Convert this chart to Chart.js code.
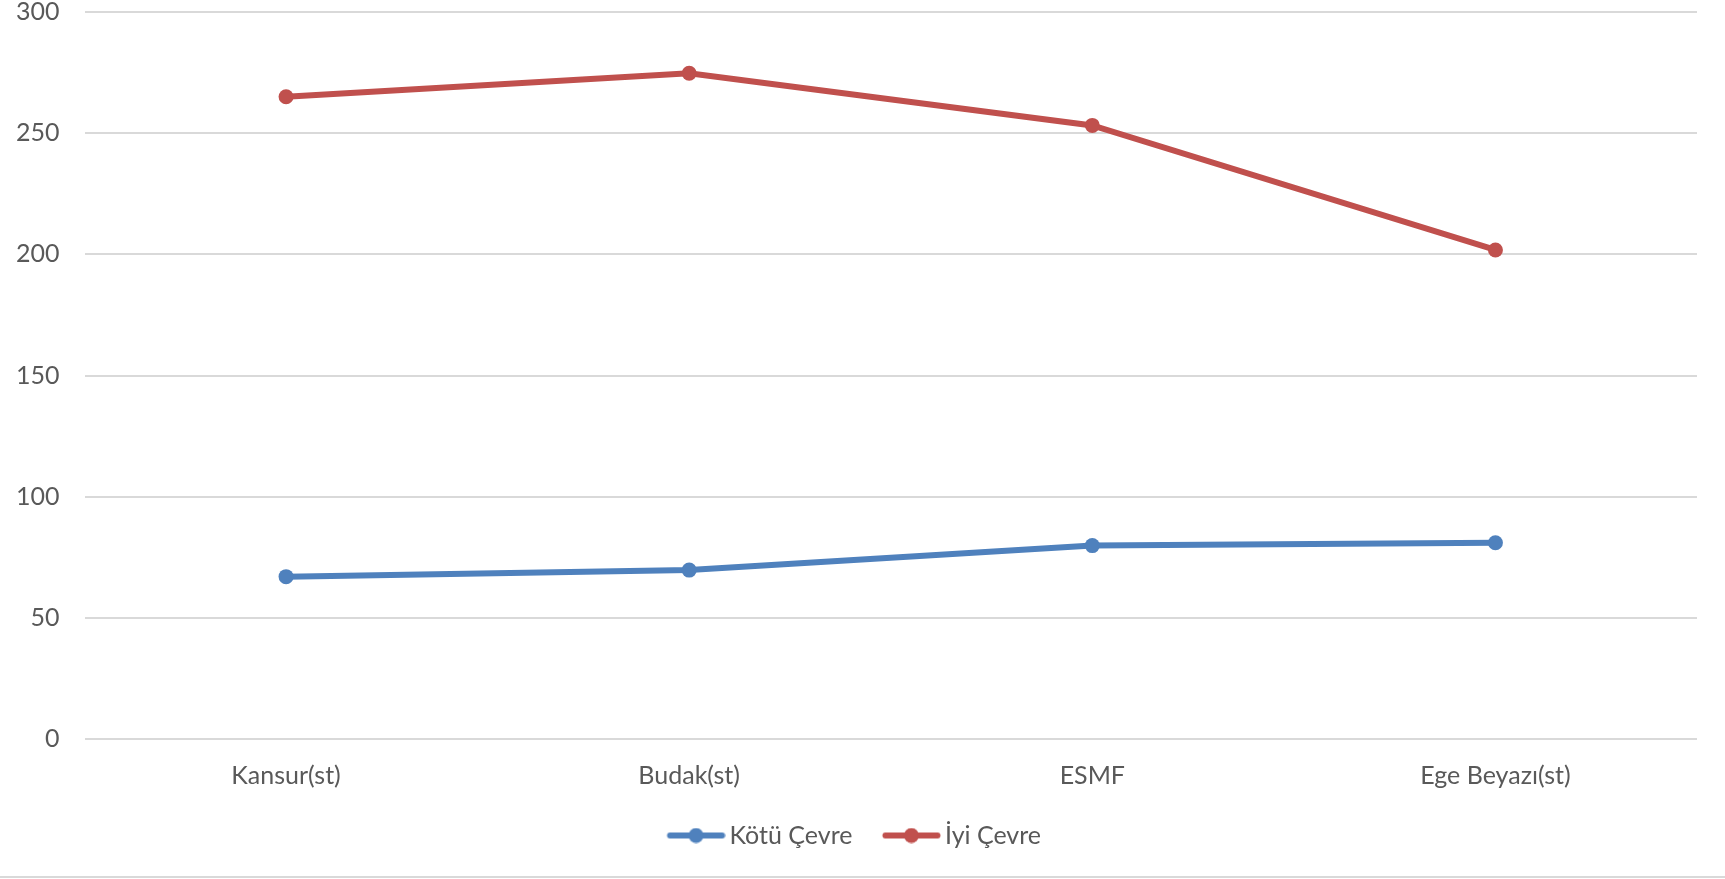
<!DOCTYPE html>
<html>
<head>
<meta charset="utf-8">
<script src="https://cdn.jsdelivr.net/npm/chart.js@4.4.0/dist/chart.umd.min.js"></script>
<style>
  html, body { margin: 0; padding: 0; background: #fff; }
  #wrap { width: 1725px; height: 876px; border-bottom: 2px solid #d9d9d9; position: relative; overflow: hidden; }
  canvas { display: block; position: absolute; left: -9px; top: -28px; }
</style>
</head>
<body>
<div id="wrap"><canvas id="c" width="1734" height="886"></canvas></div>
<script>
const categories = ["Kansur(st)", "Budak(st)", "ESMF", "Ege Beyazı(st)"];
const kotuCevre = [67, 69.7, 79.8, 81];
const iyiCevre = [265, 274.7, 253.2, 201.8];
const seriesNames = ["Kötü Çevre", "İyi Çevre"];
const yTicks = [0, 50, 100, 150, 200, 250, 300];

const BLUE = "#4F81BD";
const RED = "#C0504D";
const TEXT = "#595959";
const FONT = "Lato, 'Open Sans', sans-serif";

function legendIcon(color) {
  const cv = document.createElement("canvas");
  cv.width = 87; cv.height = 16;
  const ctx = cv.getContext("2d");
  ctx.strokeStyle = color;
  ctx.lineWidth = 6;
  ctx.lineCap = "round";
  ctx.beginPath();
  ctx.moveTo(31.5, 8); ctx.lineTo(83.5, 8);
  ctx.stroke();
  ctx.fillStyle = color;
  ctx.beginPath();
  ctx.arc(57.5, 8, 7.5, 0, Math.PI * 2);
  ctx.fill();
  return cv;
}

new Chart(document.getElementById("c"), {
  type: "line",
  data: {
    labels: categories,
    datasets: [
      {
        label: seriesNames[0], data: kotuCevre,
        borderColor: BLUE, backgroundColor: BLUE,
        borderWidth: 6, pointRadius: 7.5, pointHoverRadius: 7.5,
        pointBackgroundColor: BLUE, pointBorderWidth: 0,
        pointStyle: "circle", tension: 0,
        legendIcon: legendIcon(BLUE)
      },
      {
        label: seriesNames[1], data: iyiCevre,
        borderColor: RED, backgroundColor: RED,
        borderWidth: 6, pointRadius: 7.5, pointHoverRadius: 7.5,
        pointBackgroundColor: RED, pointBorderWidth: 0,
        pointStyle: "circle", tension: 0,
        legendIcon: legendIcon(RED)
      }
    ]
  },
  options: {
    responsive: false,
    animation: false,
    layout: { padding: { top: 0, right: 28, bottom: 0, left: 0 } },
    plugins: {
      tooltip: { enabled: false },
      legend: {
        position: "bottom",
        labels: {
          usePointStyle: true,
          pointStyleWidth: 70,
          boxHeight: 16,
          padding: 10,
          color: TEXT,
          font: { family: FONT, size: 25 },
          generateLabels(chart) {
            return chart.data.datasets.map((ds, i) => ({
              text: ds.label,
              fillStyle: ds.borderColor,
              strokeStyle: ds.borderColor,
              lineWidth: 0,
              pointStyle: ds.legendIcon,
              fontColor: TEXT,
              hidden: !chart.isDatasetVisible(i),
              datasetIndex: i
            }));
          }
        }
      }
    },
    scales: {
      x: {
        offset: true,
        grid: { display: false, drawTicks: false },
        border: { display: false },
        ticks: { color: TEXT, font: { family: FONT, size: 25 }, padding: 22 }
      },
      y: {
        min: 0, max: 300,
        afterBuildTicks(axis) { axis.ticks = yTicks.map(v => ({ value: v })); },
        grid: { color: "#d9d9d9", lineWidth: 2, drawTicks: false },
        border: { display: false },
        ticks: { color: TEXT, font: { family: FONT, size: 25 }, padding: 25 }
      }
    }
  }
});
</script>
</body>
</html>
